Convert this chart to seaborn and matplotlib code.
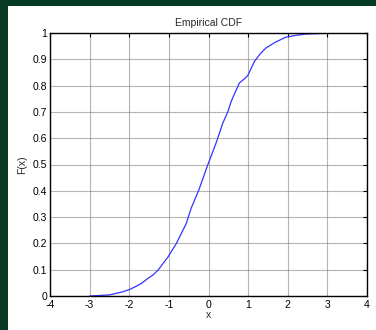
import matplotlib
matplotlib.use("Agg")
import matplotlib.pyplot as plt
from matplotlib.patches import Rectangle
import seaborn as sns
import pandas as pd

# Points along the empirical CDF curve
x_vals = [-3.00, -2.75, -2.50, -2.16, -1.99, -1.85, -1.69, -1.53, -1.40, -1.27,
          -1.02, -0.81, -0.56, -0.44, -0.35, -0.23, -0.02, 0.19, 0.36, 0.49,
          0.57, 0.61, 0.78, 0.90, 0.99, 1.16, 1.30, 1.45, 1.70, 1.95,
          2.20, 2.46, 2.96, 3.28]
f_vals = [0.000, 0.002, 0.004, 0.016, 0.025, 0.035, 0.048, 0.067, 0.080, 0.099,
          0.149, 0.200, 0.276, 0.333, 0.365, 0.409, 0.498, 0.581, 0.657, 0.701,
          0.739, 0.753, 0.810, 0.825, 0.838, 0.892, 0.920, 0.943, 0.966, 0.984,
          0.991, 0.996, 0.999, 1.000]

x_ticks = [-4, -3, -2, -1, 0, 1, 2, 3, 4]
y_ticks = [0, 0.1, 0.2, 0.3, 0.4, 0.5, 0.6, 0.7, 0.8, 0.9, 1]
y_tick_labels = ["0", "0.1", "0.2", "0.3", "0.4", "0.5", "0.6", "0.7", "0.8", "0.9", "1"]

df = pd.DataFrame({"x": x_vals, "F": f_vals})

sns.set_style("white")
plt.rcParams["font.family"] = ["Liberation Sans", "DejaVu Sans"]

fig = plt.figure(figsize=(3.76, 3.30), dpi=100)
fig.patch.set_facecolor("white")
# dark green frame along the top and left edges
fig.add_artist(Rectangle((0, 0), 8 / 376, 1, transform=fig.transFigure,
                         facecolor="#063a24", edgecolor="none", zorder=0))
fig.add_artist(Rectangle((0, 1 - 6 / 330), 1, 6 / 330, transform=fig.transFigure,
                         facecolor="#063a24", edgecolor="none", zorder=0))

ax = fig.add_axes([50 / 376, 1 - 296 / 330, (367 - 50) / 376, (296 - 33) / 330])
sns.lineplot(data=df, x="x", y="F", ax=ax, color="#3333ff", linewidth=0.9,
             sort=False, estimator=None)

ax.set_xlim(-4, 4)
ax.set_ylim(0, 1)
ax.set_xticks(x_ticks)
ax.set_xticklabels([str(t) for t in x_ticks])
ax.set_yticks(y_ticks)
ax.set_yticklabels(y_tick_labels)
ax.grid(True, color="#7a7a7a", linestyle=(0, (1, 0.8)), linewidth=0.8)
ax.set_axisbelow(True)
for side in ["top", "right", "bottom", "left"]:
    ax.spines[side].set_visible(True)
    ax.spines[side].set_color("black")
    ax.spines[side].set_linewidth(1.0)
ax.tick_params(direction="in", length=3, width=0.8, labelsize=7.5, colors="black",
               top=True, right=True)
ax.tick_params(axis="x", pad=3)
ax.tick_params(axis="y", pad=2)
ax.set_title("Empirical CDF", fontsize=7.5, pad=5)
ax.set_xlabel("x", fontsize=7.5, labelpad=0)
ax.set_ylabel("F(x)", fontsize=7.5, labelpad=4)

fig.savefig("out.png", dpi=100, facecolor="white")
